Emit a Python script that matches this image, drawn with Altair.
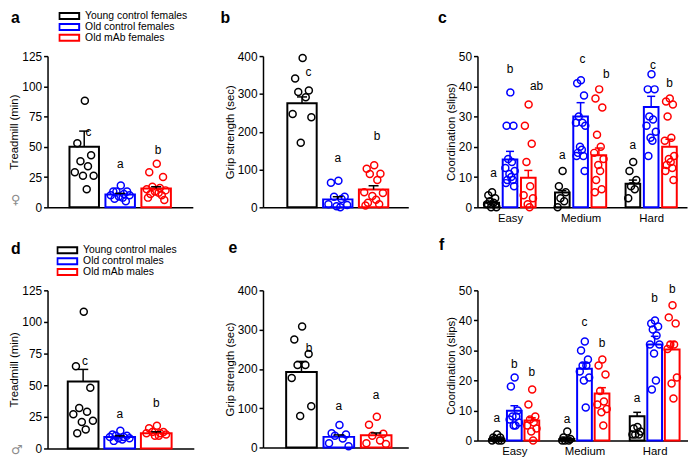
import altair as alt
import pandas as pd

FONT = "Liberation Sans"
SYMFONT = "DejaVu Sans"
COLORS = ["#000000", "#0000ff", "#ff0000"]

GROUPS_F = ["Young control females", "Old control females", "Old mAb females"]
GROUPS_M = ["Young control males", "Old control males", "Old mAb males"]
LEVELS = ["Easy", "Medium", "Hard"]

# ---- a: Treadmill, females ----
tread_f_mean = [50, 10.5, 15.5]
tread_f_sem = [13, 1, 1.5]
tread_f_young = [88, 53, 43, 38, 34, 29, 26, 26, 15]
tread_f_oldctl = [18, 13, 13, 13, 11, 10, 10, 9, 8, 7, 5]
tread_f_oldmab = [36, 29, 25, 17, 16, 15, 14, 13, 12, 11, 10, 8, 6]
tread_f_sig = ["c", "a", "b"]
tread_f_sig_y = [62, 36, 47]

# ---- b: Grip strength, females ----
grip_f_mean = [275, 21, 47]
grip_f_sem = [17, 7, 10]
grip_f_young = [395, 341, 309, 305, 291, 247, 238, 171]
grip_f_oldctl = [70, 65, 28, 28, 22, 8, 6, 3, 0]
grip_f_oldmab = [111, 102, 89, 88, 72, 40, 38, 30, 20, 12, 8, 5]
grip_f_sig = ["c", "a", "b"]
grip_f_sig_y = [357, 130, 188]

# ---- c: Coordination, females (rows: Easy, Medium, Hard) ----
coord_f_mean = [[1.5, 15.8, 9.8], [4.9, 30, 17.2], [7.8, 33.2, 20]]
coord_f_sem = [[0.5, 2.7, 2.4], [0.6, 4.6, 2.4], [1.2, 3.5, 2.5]]
coord_f_pts = [
    [[5, 4, 3, 2, 1.5, 1, 0, 0],
     [38, 27, 27, 16, 15, 13, 12, 11, 10, 9, 9, 8, 7],
     [34, 27, 21, 15, 7, 4, 3, 1, 0]],
    [[12, 7, 5, 3, 2, 0],
     [42, 41, 37, 30, 28, 28, 27, 20, 19, 18, 17, 17, 12],
     [39, 36, 33, 24, 20, 18, 16, 14, 12, 9, 6, 5]],
    [[15, 12, 9, 7, 6, 3],
     [44, 39, 39, 30, 29, 27, 25, 23, 22, 17],
     [36, 35, 34, 30, 23, 22, 17, 16, 15, 14, 13, 12, 9]],
]
coord_f_sig = [["a", "b", "ab"], ["a", "c", "b"], ["a", "c", "b"]]
coord_f_sig_y = [[11.3, 45.8, 40], [17.4, 49, 44], [20.7, 47, 41]]

# ---- d: Treadmill, males ----
tread_m_mean = [53, 9, 12]
tread_m_sem = [9.5, 1, 1.2]
tread_m_young = [108, 65, 48, 32, 29, 27, 22, 21, 15, 12]
tread_m_oldctl = [14, 11, 10, 10, 9, 9, 8, 8, 7, 6]
tread_m_oldmab = [18, 16, 13, 13, 12, 12, 11, 10, 10]
tread_m_sig = ["c", "a", "b"]
tread_m_sig_y = [69, 27.5, 36]

# ---- e: Grip strength, males ----
grip_m_mean = [192, 27, 31]
grip_m_sem = [27, 5, 6]
grip_m_young = [308, 275, 238, 210, 210, 177, 105, 80]
grip_m_oldctl = [57, 36, 33, 30, 23, 11, 3]
grip_m_oldmab = [78, 58, 35, 30, 18, 11, 9]
grip_m_sig = ["b", "a", "a"]
grip_m_sig_y = [253, 105, 134]

# ---- f: Coordination, males ----
coord_m_mean = [[0.5, 9.9, 6.7], [0.5, 23.9, 15.7], [8.1, 32, 30.3]]
coord_m_sem = [[0.3, 1.7, 0.9], [0.3, 1.9, 1.9], [1.3, 2.7, 2.6]]
coord_m_pts = [
    [[2, 1, 1, 0.5, 0, 0, 0],
     [21, 18, 10, 8, 8, 7, 6, 5, 5],
     [17, 12, 8, 7, 6, 5, 4, 3, 0]],
    [[3, 1, 0.5, 0, 0, 0],
     [33, 30, 27, 25, 25, 23, 21, 20, 11],
     [27, 25, 22, 16.5, 13, 12, 10.5, 9.4, 5]],
    [[4.5, 4, 3, 2, 2, 2],
     [40, 39, 38, 37, 35, 32, 32, 29, 20, 17],
     [45, 41, 39, 32, 32, 30.5, 21, 19, 14]],
]
coord_m_sig = [["a", "b", "b"], ["a", "c", "b"], ["a", "b", "b"]]
coord_m_sig_y = [[7.5, 25.4, 22.8], [7, 39.5, 32.3], [14, 47.6, 50.5]]

# horizontal spread pattern of the dots inside a bar (fraction of half bar width)
JIT = [0.05, -0.55, 0.55, -0.3, 0.3, -0.75, 0.75, -0.1, 0.2, -0.45, 0.45, -0.65, 0.65, -0.2]


def y_axis(title, vals):
    return alt.Axis(title=title, values=vals, grid=False, tickSize=4, tickWidth=1.5,
                    domainWidth=1.5, titlePadding=2, labelPadding=2, labelOverlap=False,
                    labelFontSize=12, titleFontSize=11.5)


def panel(groups, positions, grp_of, means, sems, pts, sig, sig_y, sig_dx, hw, cap,
          xdom, ydom, yvals, ytitle, width, height, xaxis, legend, err_colored,
          letter, letter_xy, extra=None):
    bars = pd.DataFrame({
        "grp": grp_of, "x": positions,
        "x1": [p - hw for p in positions], "x2": [p + hw for p in positions],
        "base": [0] * len(positions), "mean": means,
        "top": [m + s for m, s in zip(means, sems)],
        "c1": [p - cap for p in positions], "c2": [p + cap for p in positions],
    })
    prow = []
    for p, g, vals in zip(positions, grp_of, pts):
        for i, v in enumerate(vals):
            prow.append({"grp": g, "x": p + JIT[i % len(JIT)] * hw * 0.85, "y": v})
    pdf = pd.DataFrame(prow)
    sdf = pd.DataFrame({"x": [p + d for p, d in zip(positions, sig_dx)], "y": sig_y, "t": sig})

    xs = alt.Scale(domain=xdom, nice=False, zero=False)
    ys = alt.Scale(domain=ydom, nice=False)
    ya = y_axis(ytitle, yvals)
    sscale = alt.Scale(domain=groups, range=COLORS)

    def X(field):
        return alt.X(field, scale=xs, axis=xaxis)

    def Y(field):
        return alt.Y(field, scale=ys, axis=ya)

    rect = alt.Chart(bars).mark_rect(fill="white", strokeWidth=2).encode(
        x=X("x1:Q"), x2="x2:Q", y=Y("base:Q"), y2="mean:Q",
        stroke=alt.Stroke("grp:N", scale=sscale, legend=legend),
    )
    dots = alt.Chart(pdf).mark_point(shape="circle", filled=False, size=50,
                                      strokeWidth=1.5, opacity=1).encode(
        x=X("x:Q"), y=Y("y:Q"),
        color=alt.Color("grp:N", scale=alt.Scale(domain=groups, range=COLORS), legend=None),
    )
    if err_colored:
        est = alt.Stroke("grp:N", scale=sscale, legend=None)
    else:
        est = alt.value("black")
    err = alt.Chart(bars).mark_rule(strokeWidth=1.5).encode(
        x=X("x:Q"), y=Y("mean:Q"), y2="top:Q", stroke=est)
    capm = alt.Chart(bars).mark_rule(strokeWidth=1.5).encode(
        x=X("c1:Q"), x2="c2:Q", y=Y("top:Q"), stroke=est)
    sigm = alt.Chart(sdf).mark_text(font=FONT, fontSize=12, color="black").encode(
        x=X("x:Q"), y=Y("y:Q"), text="t:N")
    lab = alt.Chart(pd.DataFrame({"t": [letter]})).mark_text(
        font=FONT, fontSize=16, fontWeight="bold", align="left",
        baseline="alphabetic", color="black").encode(
        x=alt.value(letter_xy[0]), y=alt.value(letter_xy[1]), text="t:N")
    layers = [rect, dots, err, capm, sigm, lab]
    if extra is not None:
        sym, sx, sy = extra
        layers.append(alt.Chart(pd.DataFrame({"t": [sym]})).mark_text(
            font=SYMFONT, fontSize=13, align="left", baseline="alphabetic",
            color="#8c8c8c").encode(x=alt.value(sx), y=alt.value(sy), text="t:N"))
    return alt.layer(*layers).properties(width=width, height=height)


def legend(y, x):
    return alt.Legend(orient="none", legendX=x, legendY=y, title=None,
                      symbolType="M-1,-0.3H1V0.3H-1Z", symbolSize=400,
                      symbolStrokeWidth=2, symbolFillColor="white",
                      labelFont=FONT, labelFontSize=10.5, labelColor="black",
                      rowPadding=0, labelOffset=5, padding=0, clipHeight=11)


plain_x = alt.Axis(title=None, labels=False, ticks=False, grid=False, domainWidth=1.5)


def simple(groups, means, sems, young, ctl, mab, sig, sig_y, sig_dx, xdom, hw, ydom, yvals,
           ytitle, w, h, leg, letter, lxy, extra=None):
    return panel(groups, [0, 1, 2], groups, means, sems, [young, ctl, mab], sig, sig_y,
                 sig_dx, hw, 0.14, xdom, ydom, yvals, ytitle, w, h, plain_x, leg, False,
                 letter, lxy, extra)


def coord(groups, means, sems, pts, sig, sig_y, sig_dx, G, xdom, hw, w, h, letter, lxy):
    pos, grp, m, s, p, t, ty, dx = [], [], [], [], [], [], [], []
    for gi in range(3):
        for k in range(3):
            pos.append(gi * G + k)
            grp.append(groups[k])
            m.append(means[gi][k])
            s.append(sems[gi][k])
            p.append(pts[gi][k])
            t.append(sig[gi][k])
            ty.append(sig_y[gi][k])
            dx.append(sig_dx[gi][k])
    centers = [gi * G + 1 for gi in range(3)]
    expr = " : ".join(
        f"abs(datum.value - {c}) < 0.5 ? '{n}'" for c, n in zip(centers, LEVELS)) + " : ''"
    xaxis = alt.Axis(title=None, values=centers, labelExpr=expr, ticks=False, grid=False,
                     domainWidth=1.5, labelPadding=5, labelFontSize=11.5)
    return panel(groups, pos, grp, m, s, p, t, ty, dx, hw, 0.22, xdom, [0, 50],
                 [0, 10, 20, 30, 40, 50], "Coordination (slips)", w, h, xaxis, None, True,
                 letter, lxy)


a = simple(GROUPS_F, tread_f_mean, tread_f_sem, tread_f_young, tread_f_oldctl, tread_f_oldmab,
           tread_f_sig, tread_f_sig_y, [0.12, 0, 0.05], [-1.02, 3.02], 0.41, [0, 125],
           [0, 25, 50, 75, 100, 125], "Treadmill (min)", 147, 153, legend(-46, 11),
           "a", (-37, -33), ("\u2640", -37, 150))
b = simple(GROUPS_F, grip_f_mean, grip_f_sem, grip_f_young, grip_f_oldctl, grip_f_oldmab,
           grip_f_sig, grip_f_sig_y, [0.18, 0, 0.1], [-1.09, 2.97], 0.41, [0, 400],
           [0, 100, 200, 300, 400], "Grip strength (sec)", 147, 153, None,
           "b", (-43, -33))
c = coord(GROUPS_F, coord_f_mean, coord_f_sem, coord_f_pts, coord_f_sig, coord_f_sig_y,
          [[0.1, 0, 0.45], [0, 0.1, 0.4], [0, 0.1, 0]], 3.86, [-0.78, 10.68], 0.4, 212, 153,
          "c", (-40, -33))
d = simple(GROUPS_M, tread_m_mean, tread_m_sem, tread_m_young, tread_m_oldctl, tread_m_oldmab,
           tread_m_sig, tread_m_sig_y, [0.05, 0, 0], [-0.973, 3.027], 0.42, [0, 125],
           [0, 25, 50, 75, 100, 125], "Treadmill (min)", 148, 160, legend(-46, 9),
           "d", (-37, -37), ("\u2642", -37, 166))
e = simple(GROUPS_M, grip_m_mean, grip_m_sem, grip_m_young, grip_m_oldctl, grip_m_oldmab,
           grip_m_sig, grip_m_sig_y, [0.2, 0, 0], [-1.03, 2.86], 0.41, [0, 400],
           [0, 100, 200, 300, 400], "Grip strength (sec)", 147, 159, None,
           "e", (-35, -37.5))
f = coord(GROUPS_M, coord_m_mean, coord_m_sem, coord_m_pts, coord_m_sig, coord_m_sig_y,
          [[0, 0, 0], [0, 0, 0], [0, 0, 0]], 4.0, [-1.1, 10.9], 0.42, 213, 152,
          "f", (-39, -41))

chart = alt.concat(
    a, b, c, d, e, f, columns=3,
    spacing={"row": 84, "column": 70}, bounds="flush", align="each",
    center={"row": True},
).resolve_scale(
    x="independent", y="independent", stroke="independent", color="independent"
).properties(padding=0).configure_view(stroke=None).configure_axis(
    labelFont=FONT, labelFontSize=12, labelColor="black", titleFont=FONT,
    titleFontSize=11.5, titleFontWeight="normal", titleColor="black",
    domainColor="black", tickColor="black",
)

chart.save("out.html", embed_options={"renderer": "svg", "actions": False})
